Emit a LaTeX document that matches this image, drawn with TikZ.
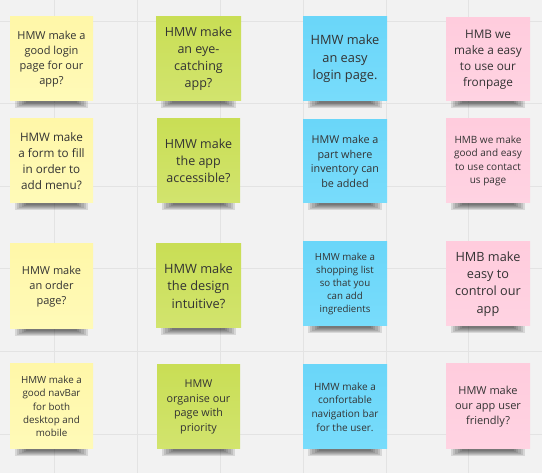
\documentclass[tikz,border=0pt]{standalone}
\usepackage{fontspec}
\setmainfont{Open Sans}
\definecolor{bg}{HTML}{F2F2F2}
\definecolor{gridc}{HTML}{E3E3E3}
\definecolor{noteY}{HTML}{FFF7A8}
\definecolor{noteYb}{HTML}{FFFAB8}
\definecolor{noteG}{HTML}{C9DE55}
\definecolor{noteGb}{HTML}{D2E46E}
\definecolor{noteB}{HTML}{6AD6F9}
\definecolor{noteBb}{HTML}{78DCFB}
\definecolor{noteP}{HTML}{FFCCDD}
\definecolor{notePb}{HTML}{FFD3E2}
\definecolor{inkc}{HTML}{333333}
\tikzset{
  notebox/.style={rectangle, inner sep=0pt, align=center, text=inkc},
  shadowlayer/.style={fill=black, opacity=0.11},
  yellownote/.style={notebox, top color=noteY, bottom color=noteYb},
  greennote/.style={notebox, top color=noteG, bottom color=noteGb},
  bluenote/.style={notebox, top color=noteB, bottom color=noteBb},
  pinknote/.style={notebox, top color=noteP, bottom color=notePb},
  gridline/.style={draw=gridc, line width=0.9pt}
}
% \sticky{name}{style}{x1}{y1}{x2}{y2}{fontsize}{text}
\newcommand{\sticky}[8]{%
  \pgfmathsetmacro{\sw}{#5-#3}\pgfmathsetmacro{\sh}{#6-#4}%
  \pgfmathsetmacro{\sbs}{#7*1.36}%
  \foreach \k in {0,...,5}{\fill[shadowlayer] ({#3+5+2.2*\k},{#6-2}) rectangle ({#5-5-2.2*\k},{#6+7.5-1.1*\k});}
  \node[#2, minimum width=\sw pt, minimum height=\sh pt,
    font=\fontsize{#7pt}{\sbs pt}\selectfont] (#1) at ({(#3+#5)/2},{(#4+#6)/2}) {#8};}
\begin{document}
\begin{tikzpicture}[x=1pt,y=-1pt]
\fill[bg] (0,0) rectangle (542,473);
\useasboundingbox (0,0) rectangle (542,473);
\foreach \gx in {54,137,220,303,386,468} \draw[gridline] (\gx,0) -- (\gx,473);
\foreach \gy in {21,103,186,268,351,434} \draw[gridline] (0,\gy) -- (542,\gy);
% row 1
\sticky{a1}{yellownote}{10}{17}{93}{101}{11}{HMW make a\\good login\\page for our\\app?}
\sticky{b1}{greennote}{156}{17}{241}{101}{12.5}{HMW make\\an eye-\\catching\\app?}
\sticky{c1}{bluenote}{303}{17}{387}{101}{12.8}{HMW make\\an easy\\login page.}
\sticky{d1}{pinknote}{446}{18}{530}{101}{11.8}{HMB we\\make a easy\\to use our\\fronpage}
% row 2
\sticky{a2}{yellownote}{10}{119}{93}{203}{11.7}{HMW make\\a form to fill\\in order to\\add menu?}
\sticky{b2}{greennote}{157}{119}{240}{203}{12.5}{HMW make\\the app\\accessible?}
\sticky{c2}{bluenote}{303}{120}{387}{203}{10.8}{HMW make a\\part where\\inventory can\\be added}
\sticky{d2}{pinknote}{446}{119}{530}{203}{10}{HMB we make\\good and easy\\to use contact\\us page}
% row 3
\sticky{a3}{yellownote}{10}{244}{93}{329}{11}{HMW make\\an order\\page?}
\sticky{b3}{greennote}{156}{244}{241}{328}{12.8}{HMW make\\the design\\intuitive?}
\sticky{c3}{bluenote}{303}{242}{387}{326}{9.7}{HMW make a\\shopping list\\so that you\\can add\\ingredients}
\sticky{d3}{pinknote}{446}{242}{530}{326}{12.7}{HMB make\\easy to\\control our\\app}
% row 4
\sticky{a4}{yellownote}{10}{364}{93}{449}{9.8}{HMW make a\\good navBar\\for both\\desktop and\\mobile}
\sticky{b4}{greennote}{157}{365}{240}{449}{10.8}{HMW\\organise our\\page with\\priority}
\sticky{c4}{bluenote}{303}{365}{387}{449}{10}{HMW make a\\confortable\\navigation bar\\for the user.}
\sticky{d4}{pinknote}{446}{364}{530}{449}{11}{HMW make\\our app user\\friendly?}
\end{tikzpicture}
\end{document}
